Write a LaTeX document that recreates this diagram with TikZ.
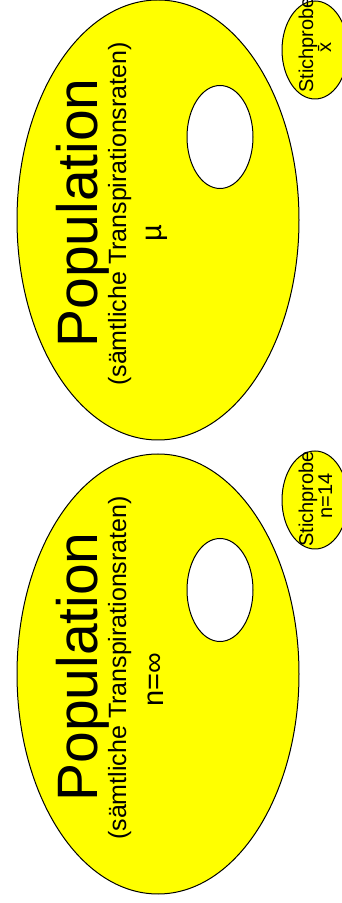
\documentclass[tikz,border=0pt]{standalone}
\usepackage{fontspec}
\setmainfont{Liberation Sans}
\usetikzlibrary{shapes.geometric}
\definecolor{popyellow}{RGB}{255,255,0}
\begin{document}
\begin{tikzpicture}[x=1pt,y=1pt,
  popell/.style={ellipse,draw=black,line width=1pt,fill=popyellow,inner sep=0pt,minimum width=282pt,minimum height=440pt},
  holeell/.style={ellipse,draw=black,line width=1pt,fill=white,inner sep=0pt,minimum width=66pt,minimum height=103pt},
  sampell/.style={ellipse,draw=black,line width=1pt,fill=popyellow,inner sep=0pt,minimum width=66pt,minimum height=98pt},
  rtext/.style={rotate=90,anchor=base,inner sep=0pt},
  bigtxt/.style={rtext,font=\fontsize{57}{60}\selectfont},
  subtxt/.style={rtext,font=\fontsize{25}{28}\selectfont},
  midtxt/.style={rtext,font=\fontsize{29}{32}\selectfont},
  smalltxt/.style={rtext,font=\fontsize{20}{22}\selectfont}]
\fill[white] (0,0) rectangle (342,903);
\useasboundingbox (0,0) rectangle (342,903);
% top population
\node[popell] (popA) at (158,683) {};
\node[holeell] (holeA) at (220,766) {};
\node[sampell] (sampA) at (315,853) {};
\node[bigtxt] (titleA) at (97,690) {Population};
\node[subtxt] (subA) at (126,689) {(sämtliche Transpirationsraten)};
\node[midtxt] (muA) at (161,670) {µ};
\node[smalltxt] (stA) at (313,858) {Stichprobe};
\node[smalltxt] (xbarA) at (331,855) {\=x};
% bottom population
\node[popell] (popB) at (158,229) {};
\node[holeell] (holeB) at (220,313) {};
\node[sampell] (sampB) at (315,403) {};
\node[bigtxt] (titleB) at (97,236) {Population};
\node[subtxt] (subB) at (126,235) {(sämtliche Transpirationsraten)};
\node[midtxt] (nB) at (163,223) {n=\symbol{"221E}};
\node[smalltxt] (stB) at (313,404) {Stichprobe};
\node[smalltxt] (nsB) at (332,407) {n=14};
\end{tikzpicture}
\end{document}
